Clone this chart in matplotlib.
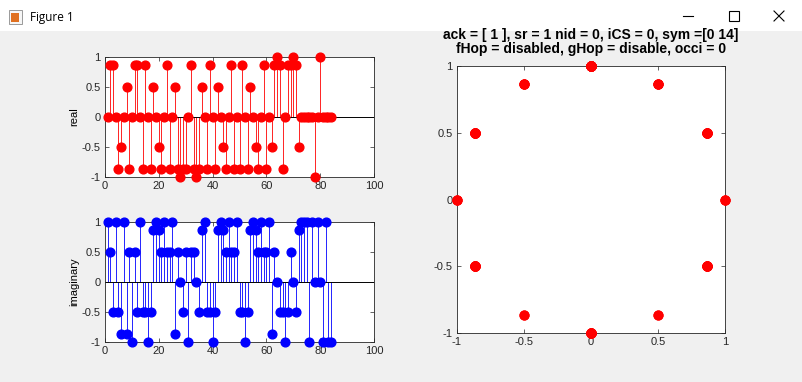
import numpy as np
import matplotlib
matplotlib.use('Agg')
from matplotlib import pyplot as plt
from matplotlib.patches import Rectangle
from matplotlib.lines import Line2D

plt.rcParams['font.family'] = ['Liberation Sans', 'DejaVu Sans']

# sample index of the stem plots
n = np.arange(1, 85)

# real part
real = [0, .866, .866, 0, -.866, -.5, 0, .5, -.866, 0,
        .866, .866, 0, -.866, .866, 0, -.866, .5, 0, -.5,
        -.866, 0, .866, -.866, 0, .5, -.866, -1, -.866, -.866,
        0, .866, -.866, -1, -.866, .5, 0, -.866, .866, 0,
        -.866, .5, 0, -.5, -.866, 0, .866, -.866, 0, -.866,
        .866, 0, -.866, .5, 0, -.5, -.866, 0, .866, -.866,
        0, -.5, .866, 1, .866, -.866, 0, .866, .866, 1,
        .866, -.5, 0, 0, 0, 0, 0, -1, 0, 1,
        0, 0, 0, 0]

# imaginary part
imag = [1, .5, -.5, 1, -.5, -.866, 1, -.866, .5, -1,
        .5, -.5, 1, -.5, -.5, -1, -.5, .866, 1, .866,
        .5, 1, .5, .5, 1, -.866, .5, 0, -.5, .5,
        -1, .5, .5, 0, -.5, .866, 1, -.5, -.5, -1,
        -.5, .866, 1, .866, .5, 1, .5, .5, 1, -.5,
        -.5, -1, -.5, .866, 1, .866, .5, 1, .5, .5,
        1, -.866, .5, 0, -.5, -.5, -1, -.5, .5, 0,
        -.5, .866, 1, 1, 1, -1, 1, 0, 1, 0,
        -1, 1, -1, -1]

title_lines = ['ack = [ 1 ], sr = 1 nid = 0, iCS = 0, sym =[0 14]',
               'fHop = disabled, gHop = disable, occi = 0']
ticks_pm1 = [-1, -0.5, 0, 0.5, 1]

W, H = 802, 382
fig = plt.figure(figsize=(W / 100, H / 100), dpi=100, facecolor='#f0f0f0')

# window title bar
fig.patches.append(Rectangle((0, (H - 31) / H), 1, 31 / H, transform=fig.transFigure,
                             facecolor='white', edgecolor='none', zorder=-1))
fig.text(30 / W, 1 - 17 / H, 'Figure 1', fontsize=8.5, va='center', ha='left',
         family=['Open Sans', 'DejaVu Sans'])
fig.patches.append(Rectangle((9 / W, 1 - 24 / H), 13 / W, 14 / H, transform=fig.transFigure,
                             facecolor='#f6f6f6', edgecolor='#8a8a8a', lw=0.6))
fig.patches.append(Rectangle((11 / W, 1 - 22 / H), 8 / W, 9 / H, transform=fig.transFigure,
                             facecolor='#e07020', edgecolor='none'))
fig.lines.append(Line2D([683 / W, 693 / W], [1 - 16 / H, 1 - 16 / H], transform=fig.transFigure,
                        color='k', lw=0.8))
fig.patches.append(Rectangle((729 / W, 1 - 21 / H), 10 / W, 10 / H, transform=fig.transFigure,
                             facecolor='none', edgecolor='k', lw=0.8))
fig.lines.append(Line2D([774 / W, 784 / W], [1 - 11 / H, 1 - 21 / H], transform=fig.transFigure,
                        color='k', lw=0.8))
fig.lines.append(Line2D([774 / W, 784 / W], [1 - 21 / H, 1 - 11 / H], transform=fig.transFigure,
                        color='k', lw=0.8))


def px_axes(left, top, right, bottom):
    return fig.add_axes([left / W, (H - bottom) / H, (right - left) / W, (bottom - top) / H])


def style(ax):
    for s in ax.spines.values():
        s.set_color('#262626')
        s.set_linewidth(0.6)
    ax.tick_params(direction='in', length=3, width=0.5, labelsize=8, colors='#262626',
                   top=True, right=True, pad=3)
    ax.set_facecolor('white')


def stem_plot(ax, y, color, label):
    ax.vlines(n, 0, y, color=color, lw=0.6)
    ax.plot(n, y, 'o', color=color, markersize=6.3, clip_on=False, zorder=3)
    ax.axhline(0, color='k', lw=0.7, zorder=2)
    ax.set_xlim(0, 100)
    ax.set_ylim(-1, 1)
    ax.set_xticks([0, 20, 40, 60, 80, 100])
    ax.set_yticks(ticks_pm1)
    ax.set_yticklabels(['-1', '-0.5', '0', '0.5', '1'])
    ax.set_ylabel(label, fontsize=8, labelpad=2)
    style(ax)


ax1 = px_axes(105, 57, 374, 177)
stem_plot(ax1, real, 'red', 'real')

ax2 = px_axes(105, 222, 374, 342)
stem_plot(ax2, imag, 'blue', 'imaginary')

ax3 = px_axes(457, 66, 725, 333)
ax3.plot(real, imag, 'o', color='red', markersize=6.3, clip_on=False, zorder=3)
ax3.set_xlim(-1, 1)
ax3.set_ylim(-1, 1)
ax3.set_xticks(ticks_pm1)
ax3.set_xticklabels(['-1', '-0.5', '0', '0.5', '1'])
ax3.set_yticks(ticks_pm1)
ax3.set_yticklabels(['-1', '-0.5', '0', '0.5', '1'])
ax3.set_title('\n'.join(title_lines), fontsize=10, fontweight='bold', pad=9, linespacing=1.05)
style(ax3)

fig.savefig('out.png', dpi=100, facecolor=fig.get_facecolor())
